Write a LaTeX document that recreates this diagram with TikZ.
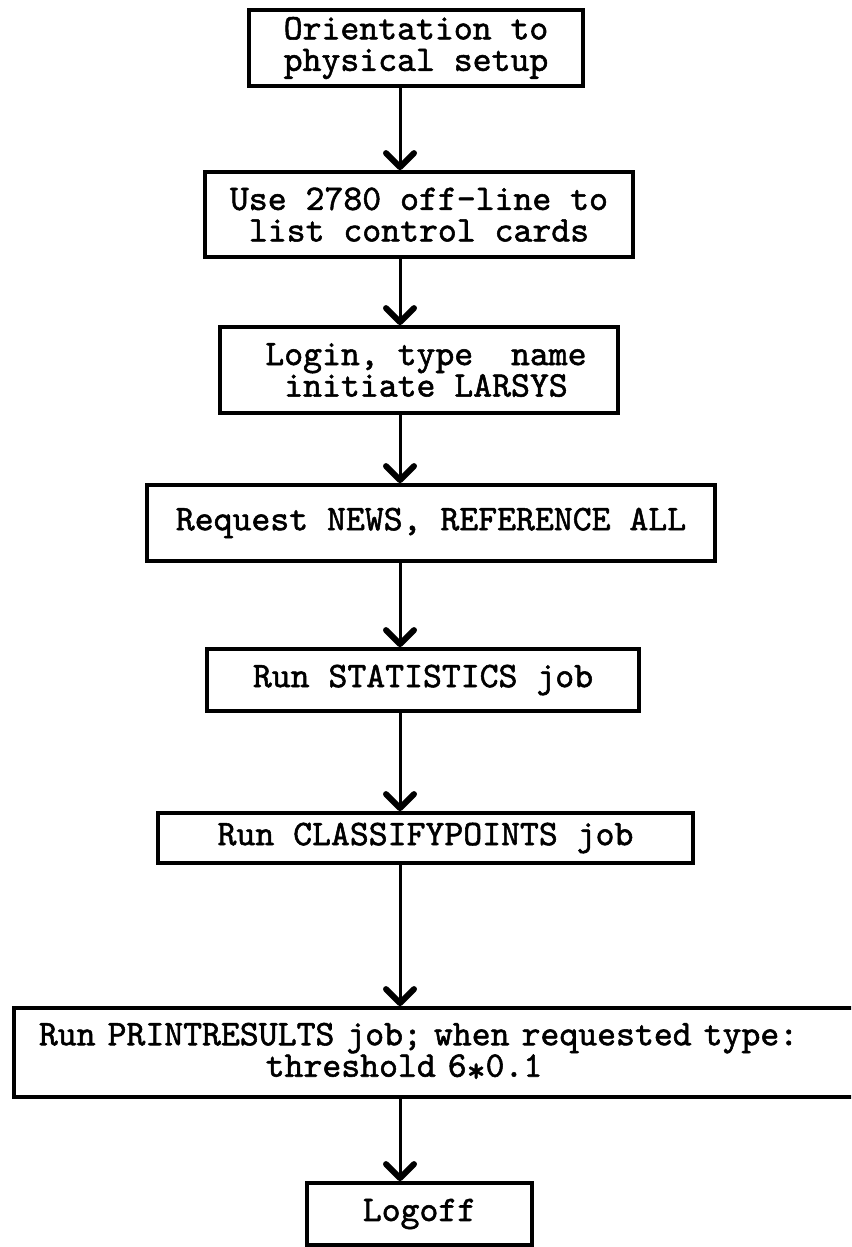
\documentclass[tikz,border=0pt]{standalone}
\usepackage{fontspec}
\newfontfamily\tw{lmmono10-regular}[Extension=.otf,FakeBold=1.5]
\usetikzlibrary{arrows.meta}
\begin{document}
\begin{tikzpicture}[x=1pt,y=-1pt,
  box/.style={draw, line width=3.8pt, rectangle, inner sep=0pt,
    font=\tw\fontsize{36}{31.5}\selectfont, align=center},
  flow/.style={line width=3pt,
    -{Straight Barb[length=14pt,width=28pt,line width=6pt,round]}}]
\useasboundingbox (0,0) rectangle (851,1247);
\clip (0,0) rectangle (851,1247);
\fill[white] (0,0) rectangle (851,1247);

% process steps
\node[box, minimum width=334pt, minimum height=76pt] (orient) at (416,48)
  {Orientation to\\physical setup};
\node[box, minimum width=428pt, minimum height=85pt] (offline) at (419,214.5)
  {Use 2780 off-line to\\list control cards};
\node[box, minimum width=398pt, minimum height=86pt] (login) at (419,370)
  {\hspace*{14pt}Login, type\ \ name\\\hspace*{14pt}initiate LARSYS};
\node[box, minimum width=568pt, minimum height=76pt] (news) at (431,523)
  {Request NEWS, REFERENCE ALL};
\node[box, minimum width=432pt, minimum height=62pt] (stats) at (423,680)
  {Run STATISTICS job};
\node[box, minimum width=535pt, minimum height=50pt] (classify) at (425.5,838)
  {Run CLASSIFYPOINTS job};
\node[box, anchor=west, text width=900pt, inner xsep=25pt, align=left,
  minimum height=89pt] (print) at (12,1052.5)
  {Run PRINTRESULTS job; when requested type:\\
   \hspace*{6.3em}threshold 6\raisebox{-0.35ex}{*}0.1};
\node[box, minimum width=225pt, minimum height=62pt] (logoff) at (419.5,1214)
  {Logoff};

% connectors, all on one vertical line
\coordinate (ax) at (400,0);
\draw[flow] (orient.south -| ax) -- (offline.north -| ax);
\draw[flow] (offline.south -| ax) -- (login.north -| ax);
\draw[flow] (login.south -| ax) -- (news.north -| ax);
\draw[flow] (news.south -| ax) -- (stats.north -| ax);
\draw[flow] (stats.south -| ax) -- (classify.north -| ax);
\draw[flow] (classify.south -| ax) -- (print.north -| ax);
\draw[flow] (print.south -| ax) -- (logoff.north -| ax);
\end{tikzpicture}
\end{document}
